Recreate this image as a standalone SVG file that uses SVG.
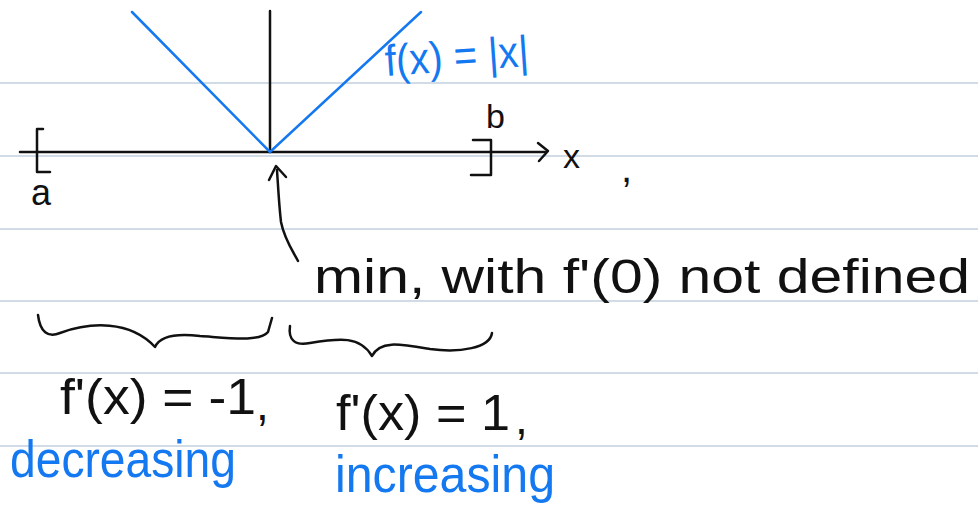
<svg xmlns="http://www.w3.org/2000/svg" width="978" height="513" viewBox="0 0 978 513">
<style>
.rule{stroke:#c3d0de;stroke-width:1.5}
.ink{fill:none;stroke:#111;stroke-width:2.5;stroke-linecap:round;stroke-linejoin:round}
.blue{fill:none;stroke:#1478f0;stroke-width:2.5;stroke-linecap:round}
.t{font-family:"Liberation Sans",Arial,sans-serif;fill:#111}
.tb{font-family:"Liberation Sans",Arial,sans-serif;fill:#1478f0}
</style>
<rect width="978" height="513" fill="#fff"/>
<g id="rules">
<line class="rule" x1="0" y1="83" x2="978" y2="83"/>
<line class="rule" x1="0" y1="156" x2="978" y2="156"/>
<line class="rule" x1="0" y1="229" x2="978" y2="229"/>
<line class="rule" x1="0" y1="301" x2="978" y2="301"/>
<line class="rule" x1="0" y1="373" x2="978" y2="373"/>
<line class="rule" x1="0" y1="446" x2="978" y2="446"/>
</g>
<g id="axes">
<path class="ink" d="M270 11 V152"/>
<path class="ink" d="M20 152 H546"/>
<path class="ink" d="M538 143 L548 151 L539 161"/>
</g>
<g id="graph">
<path class="blue" d="M132 12 L270 152 L421 12"/>
<text class="tb" x="386" y="76" font-size="44" transform="rotate(-4 386 76)" textLength="144" lengthAdjust="spacingAndGlyphs">f(x) = |x|</text>
</g>
<g id="interval">
<path class="ink" d="M43 129 H37 V172 H50"/>
<text class="t" x="31" y="205" font-size="36">a</text>
<path class="ink" d="M473 140 H491 V175 H471"/>
<text class="t" x="486" y="128" font-size="34">b</text>
<text class="t" x="563" y="168" font-size="34">x</text>
<text class="t" x="621" y="182" font-size="40">,</text>
</g>
<g id="connectors">
<path class="ink" d="M298 261 C292 250 284 238 281 222 C279 205 278 185 277 170"/>
<path class="ink" d="M269 180 L276 166 L286 177"/>
</g>
<g id="min-label">
<text class="t" x="314" y="293" font-size="48" textLength="656" lengthAdjust="spacingAndGlyphs">min, with f'(0) not defined</text>
</g>
<g id="braces">
<path class="ink" d="M38 315 C40 332 48 338 60 333 C90 322 130 320 155 347 C160 336 175 333 200 336 C230 338 260 342 268 332 L272 318"/>
<path class="ink" d="M290 326 C288 340 295 346 310 343 C340 338 360 336 372 356 C380 340 400 344 430 349 C460 353 490 348 492 333"/>
</g>
<g id="left-label">
<text class="t" x="60" y="414" font-size="50" textLength="196" lengthAdjust="spacingAndGlyphs">f'(x) = -1</text>
<text class="t" x="256" y="420" font-size="46">,</text>
<text class="tb" x="10" y="477" font-size="52" textLength="226" lengthAdjust="spacingAndGlyphs">decreasing</text>
</g>
<g id="right-label">
<text class="t" x="336" y="430" font-size="50" textLength="174" lengthAdjust="spacingAndGlyphs">f'(x) = 1</text>
<text class="t" x="515" y="434" font-size="46">,</text>
<text class="tb" x="335" y="492" font-size="52" textLength="220" lengthAdjust="spacingAndGlyphs">increasing</text>
</g>
</svg>
